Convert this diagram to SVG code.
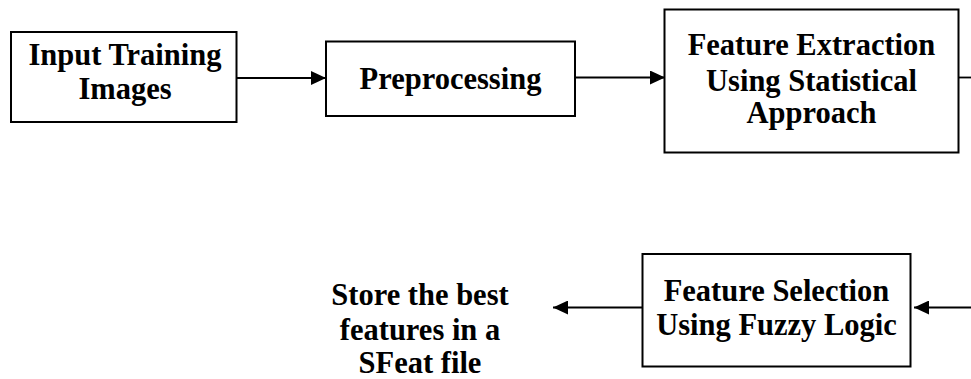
<svg xmlns="http://www.w3.org/2000/svg" width="971" height="379" viewBox="0 0 971 379">
<style>
.box{fill:#fff;stroke:#000;stroke-width:2}
.lbl{font-family:"Liberation Serif","Times New Roman",serif;font-weight:bold;font-size:30.5px;fill:#000;text-anchor:middle}
.con{stroke:#000;stroke-width:1.8;fill:none}
</style>
<defs>
<marker id="ah" viewBox="0 0 15 14" refX="15" refY="7" markerWidth="15" markerHeight="14" markerUnits="userSpaceOnUse" orient="auto">
<path d="M0,0 L15,7 L0,14 Z" fill="#000"/>
</marker>
</defs>
<rect width="971" height="379" fill="#fff"/>
<g id="connectors">
<line class="con" x1="237" y1="78" x2="326" y2="78" marker-end="url(#ah)"/>
<line class="con" x1="575" y1="77.5" x2="665" y2="77.5" marker-end="url(#ah)"/>
<line class="con" x1="958" y1="77.5" x2="971" y2="77.5"/>
<line class="con" x1="971" y1="307.5" x2="914" y2="307.5" marker-end="url(#ah)"/>
<line class="con" x1="642" y1="307.5" x2="553" y2="307.5" marker-end="url(#ah)"/>
</g>
<g id="input">
<rect class="box" x="11" y="32" width="225.5" height="90"/>
<text class="lbl" x="125" y="65">Input Training</text>
<text class="lbl" x="125" y="98.5">Images</text>
</g>
<g id="preprocessing">
<rect class="box" x="326" y="41.5" width="249" height="74.5"/>
<text class="lbl" x="450.5" y="88.5">Preprocessing</text>
</g>
<g id="extraction">
<rect class="box" x="664.5" y="9.5" width="294" height="143"/>
<text class="lbl" x="811.5" y="55">Feature Extraction</text>
<text class="lbl" x="811.5" y="90.5">Using Statistical</text>
<text class="lbl" x="811.5" y="123">Approach</text>
</g>
<g id="selection">
<rect class="box" x="642.5" y="254" width="268" height="112.5"/>
<text class="lbl" x="776.5" y="301">Feature Selection</text>
<text class="lbl" x="776.5" y="335">Using Fuzzy Logic</text>
</g>
<g id="store">
<text class="lbl" x="420" y="305">Store the best</text>
<text class="lbl" x="420" y="339.5">features in a</text>
<text class="lbl" x="420" y="373">SFeat file</text>
</g>
</svg>
